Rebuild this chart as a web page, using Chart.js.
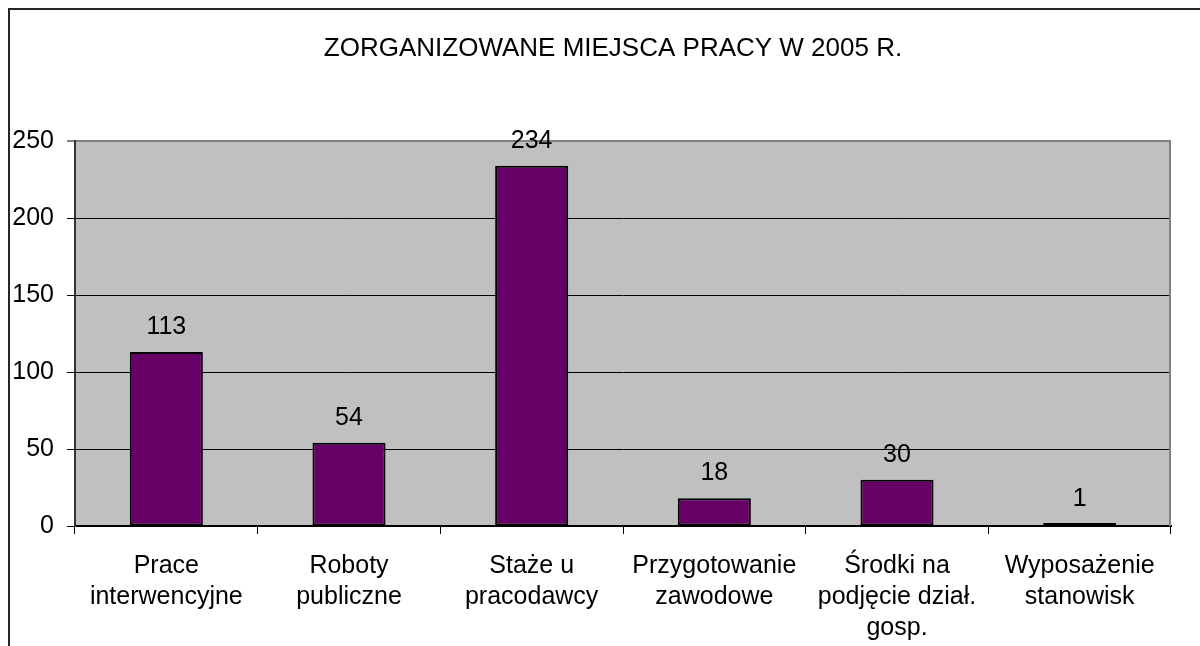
<!DOCTYPE html>
<html>
<head>
<meta charset="utf-8">
<script src="https://cdn.jsdelivr.net/npm/chart.js@4.4.1/dist/chart.umd.min.js"></script>
<style>
  html, body { margin: 0; padding: 0; background: #fff; }
  #wrap { width: 1200px; height: 646px; position: relative; }
</style>
</head>
<body>
<div id="wrap"><canvas id="c" width="1200" height="646"></canvas></div>
<script>
const chartTitle = 'ZORGANIZOWANE MIEJSCA PRACY W 2005 R.';
const categories = [
  ['Prace', 'interwencyjne'],
  ['Roboty', 'publiczne'],
  ['Staże u', 'pracodawcy'],
  ['Przygotowanie', 'zawodowe'],
  ['Środki na', 'podjęcie dział.', 'gosp.'],
  ['Wyposażenie', 'stanowisk']
];
const values = [113, 54, 234, 18, 30, 1];
const yMin = 0, yMax = 250, yStep = 50;

const FONT = "'Liberation Sans', Arial, sans-serif";

const framePlugin = {
  id: 'frame',
  beforeDraw(chart) {
    const ctx = chart.ctx;
    const a = chart.chartArea;
    ctx.save();
    ctx.fillStyle = '#ffffff';
    ctx.fillRect(0, 0, chart.width, chart.height);
    ctx.fillStyle = '#262626';
    ctx.fillRect(8, 8, chart.width - 8, 2);
    ctx.fillRect(8, 8, 2, chart.height - 8);
    ctx.fillStyle = '#c0c0c0';
    ctx.fillRect(a.left, a.top, a.right - a.left, a.bottom - a.top);
    // title
    ctx.fillStyle = '#000';
    ctx.font = '26px ' + FONT;
    ctx.textAlign = 'center';
    ctx.textBaseline = 'alphabetic';
    ctx.fillText(chartTitle, 613, 55.5);
    ctx.restore();
  },
  afterDatasetsDraw(chart) {
    const ctx = chart.ctx;
    const a = chart.chartArea;
    ctx.save();
    ctx.strokeStyle = '#808080';
    ctx.lineWidth = 2;
    ctx.beginPath();
    ctx.moveTo(a.right - 1, a.top);
    ctx.lineTo(a.right - 1, a.bottom);
    ctx.stroke();
    // data labels
    const meta = chart.getDatasetMeta(0);
    const yScale = chart.scales.y;
    ctx.fillStyle = '#000';
    ctx.font = '25px ' + FONT;
    ctx.textAlign = 'center';
    ctx.textBaseline = 'alphabetic';
    meta.data.forEach((bar, i) => {
      const top = yScale.getPixelForValue(values[i]);
      ctx.fillText(String(values[i]), bar.x, top - 18);
    });
    ctx.restore();
  }
};

new Chart(document.getElementById('c'), {
  type: 'bar',
  data: {
    labels: categories,
    datasets: [{
      data: values,
      backgroundColor: '#660066',
      borderColor: '#000000',
      borderWidth: 2,
      borderSkipped: false,
      minBarLength: 3,
      barPercentage: 0.4,
      categoryPercentage: 1.0
    }]
  },
  options: {
    responsive: false,
    animation: false,
    devicePixelRatio: 1,
    layout: { padding: { left: 0, right: 29, top: 141, bottom: 0 } },
    plugins: {
      legend: { display: false },
      tooltip: { enabled: false },
      title: { display: false }
    },
    scales: {
      x: {
        grid: {
          display: true,
          offset: true,
          drawOnChartArea: false,
          drawTicks: true,
          tickLength: 8,
          color: '#000'
        },
        border: { display: true, color: '#000', width: 2 },
        ticks: {
          color: '#000',
          font: { family: FONT, size: 25, lineHeight: 1.24 },
          padding: 17,
          maxRotation: 0,
          autoSkip: false
        },
        afterFit(scale) { scale.height = 120; }
      },
      y: {
        min: yMin,
        max: yMax,
        grid: {
          drawOnChartArea: true,
          drawTicks: true,
          tickLength: 8,
          color: (c) => (c.tick && c.tick.value === yMax) ? '#808080' : '#000',
          lineWidth: (c) => (c.tick && c.tick.value === yMax) ? 2 : 1
        },
        border: { display: true, color: '#333', width: 2 },
        ticks: {
          stepSize: yStep,
          color: '#000',
          font: { family: FONT, size: 25 },
          padding: 13
        },
        afterFit(scale) { scale.width = 75; }
      }
    }
  },
  plugins: [framePlugin]
});
</script>
</body>
</html>
